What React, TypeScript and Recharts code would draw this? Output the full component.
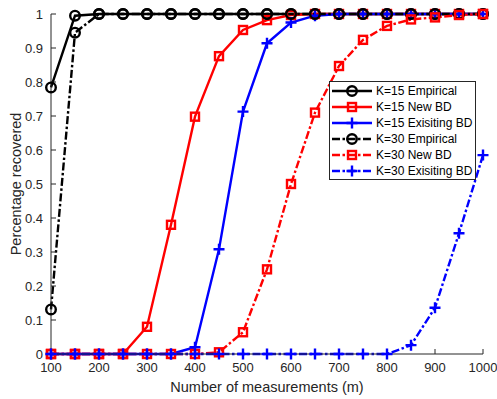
import { LineChart, Line, XAxis, YAxis, Legend } from "recharts";

// measurement counts (m)
const measurements = [
  100, 150, 200, 250, 300, 350, 400, 450, 500, 550, 600, 650, 700, 750, 800, 850, 900, 950, 1000,
];

const k15Empirical = [0.784, 0.995, 1, 1, 1, 1, 1, 1, 1, 1, 1, 1, 1, 1, 1, 1, 1, 1, 1];
const k15NewBD = [0, 0, 0, 0, 0.08, 0.38, 0.698, 0.876, 0.953, 0.982, 0.997, 1, 1, 1, 1, 1, 1, 1, 1];
const k15ExistingBD = [0, 0, 0, 0, 0, 0, 0.02, 0.308, 0.713, 0.914, 0.975, 0.995, 1, 1, 1, 1, 1, 1, 1];
const k30Empirical = [0.131, 0.945, 1, 1, 1, 1, 1, 1, 1, 1, 1, 1, 1, 1, 1, 1, 1, 1, 1];
const k30NewBD = [0, 0, 0, 0, 0, 0, 0, 0.005, 0.064, 0.249, 0.5, 0.71, 0.847, 0.924, 0.965, 0.984, 0.99, 0.997, 1];
const k30ExistingBD = [0, 0, 0, 0, 0, 0, 0, 0, 0, 0, 0, 0, 0, 0, 0, 0.026, 0.136, 0.355, 0.585];

const xTicks = [100, 200, 300, 400, 500, 600, 700, 800, 900, 1000];
const yTicks = [0, 0.1, 0.2, 0.3, 0.4, 0.5, 0.6, 0.7, 0.8, 0.9, 1];

const AXIS = "#262626";
const DASH_DOT = "8 2.5 2.5 2.5";
const LW = 2.4;

type MarkerKind = "circle" | "square" | "plus";

const series: {
  key: string;
  name: string;
  values: number[];
  color: string;
  marker: MarkerKind;
  dashed: boolean;
}[] = [
  { key: "k15emp", name: "K=15 Empirical", values: k15Empirical, color: "#000000", marker: "circle", dashed: false },
  { key: "k15new", name: "K=15 New BD", values: k15NewBD, color: "#ff0000", marker: "square", dashed: false },
  { key: "k15old", name: "K=15 Exisiting BD", values: k15ExistingBD, color: "#0000ff", marker: "plus", dashed: false },
  { key: "k30emp", name: "K=30 Empirical", values: k30Empirical, color: "#000000", marker: "circle", dashed: true },
  { key: "k30new", name: "K=30 New BD", values: k30NewBD, color: "#ff0000", marker: "square", dashed: true },
  { key: "k30old", name: "K=30 Exisiting BD", values: k30ExistingBD, color: "#0000ff", marker: "plus", dashed: true },
];

const data = measurements.map((m, i) => {
  const row: Record<string, number> = { m };
  series.forEach((s) => {
    row[s.key] = s.values[i];
  });
  return row;
});

function Marker({ kind, cx, cy, color }: { kind: MarkerKind; cx: number; cy: number; color: string }) {
  if (kind === "circle") {
    return <circle cx={cx} cy={cy} r={4.8} fill="none" stroke={color} strokeWidth={LW} />;
  }
  if (kind === "square") {
    return <rect x={cx - 4} y={cy - 4} width={8} height={8} fill="none" stroke={color} strokeWidth={LW} />;
  }
  return (
    <path
      d={`M${cx - 5.5},${cy}H${cx + 5.5}M${cx},${cy - 5.5}V${cy + 5.5}`}
      stroke={color}
      strokeWidth={LW}
      fill="none"
    />
  );
}

function LegendBox() {
  const w = 147;
  const h = 99;
  return (
    <svg width={w} height={h} style={{ display: "block" }}>
      <rect x={0.5} y={0.5} width={w - 1} height={h - 1} fill="#ffffff" stroke={AXIS} strokeWidth={1} />
      {series.map((s, i) => {
        const cy = 10 + i * 16;
        return (
          <g key={s.key}>
            <line
              x1={3}
              x2={43}
              y1={cy}
              y2={cy}
              stroke={s.color}
              strokeWidth={LW}
              strokeDasharray={s.dashed ? DASH_DOT : undefined}
            />
            <Marker kind={s.marker} cx={23} cy={cy} color={s.color} />
            <text x={47} y={cy + 4.3} fontSize={12} fill="#000000">
              {s.name}
            </text>
          </g>
        );
      })}
    </svg>
  );
}

export default function App() {
  return (
    <div style={{ position: "absolute", left: 0, top: 0, background: "#ffffff" }}>
      <LineChart
        width={497}
        height={399}
        data={data}
        margin={{ top: 14, right: 14, bottom: 15, left: 11 }}
        style={{ fontFamily: '"Liberation Sans", Arial, sans-serif' }}
      >
        <XAxis
          dataKey="m"
          type="number"
          domain={[100, 1000]}
          ticks={xTicks}
          height={30}
          stroke={AXIS}
          tickSize={-5}
          tickMargin={14}
          tick={{ fontSize: 13, fill: AXIS }}
          label={{
            value: "Number of measurements (m)",
            position: "bottom",
            offset: -2,
            fontSize: 14.5,
            fill: AXIS,
          }}
        />
        <XAxis
          xAxisId="top"
          orientation="top"
          type="number"
          domain={[100, 1000]}
          ticks={xTicks}
          height={0}
          stroke={AXIS}
          tickSize={-5}
          tick={false}
        />
        <YAxis
          type="number"
          domain={[0, 1]}
          ticks={yTicks}
          width={40}
          stroke={AXIS}
          tickSize={-5}
          tickMargin={13}
          tick={{ fontSize: 13, fill: AXIS }}
          label={{
            value: "Percentage recovered",
            angle: -90,
            position: "insideLeft",
            offset: 5,
            fontSize: 14.5,
            fill: AXIS,
            style: { textAnchor: "middle" },
          }}
        />
        <YAxis
          yAxisId="right"
          orientation="right"
          type="number"
          domain={[0, 1]}
          ticks={yTicks}
          width={0}
          stroke={AXIS}
          tickSize={-5}
          tick={false}
        />
        {series.map((s) => (
          <Line
            key={s.key}
            dataKey={s.key}
            name={s.name}
            type="linear"
            stroke={s.color}
            strokeWidth={LW}
            strokeDasharray={s.dashed ? DASH_DOT : undefined}
            isAnimationActive={false}
            dot={(p: any) => (
              <Marker key={`${s.key}-${p.index}`} kind={s.marker} cx={p.cx} cy={p.cy} color={s.color} />
            )}
            activeDot={false}
          />
        ))}
        <Legend
          layout="vertical"
          align="center"
          verticalAlign="middle"
          wrapperStyle={{ left: 329, top: 81, width: 147, height: 99 }}
          content={() => <LegendBox />}
        />
      </LineChart>
    </div>
  );
}
